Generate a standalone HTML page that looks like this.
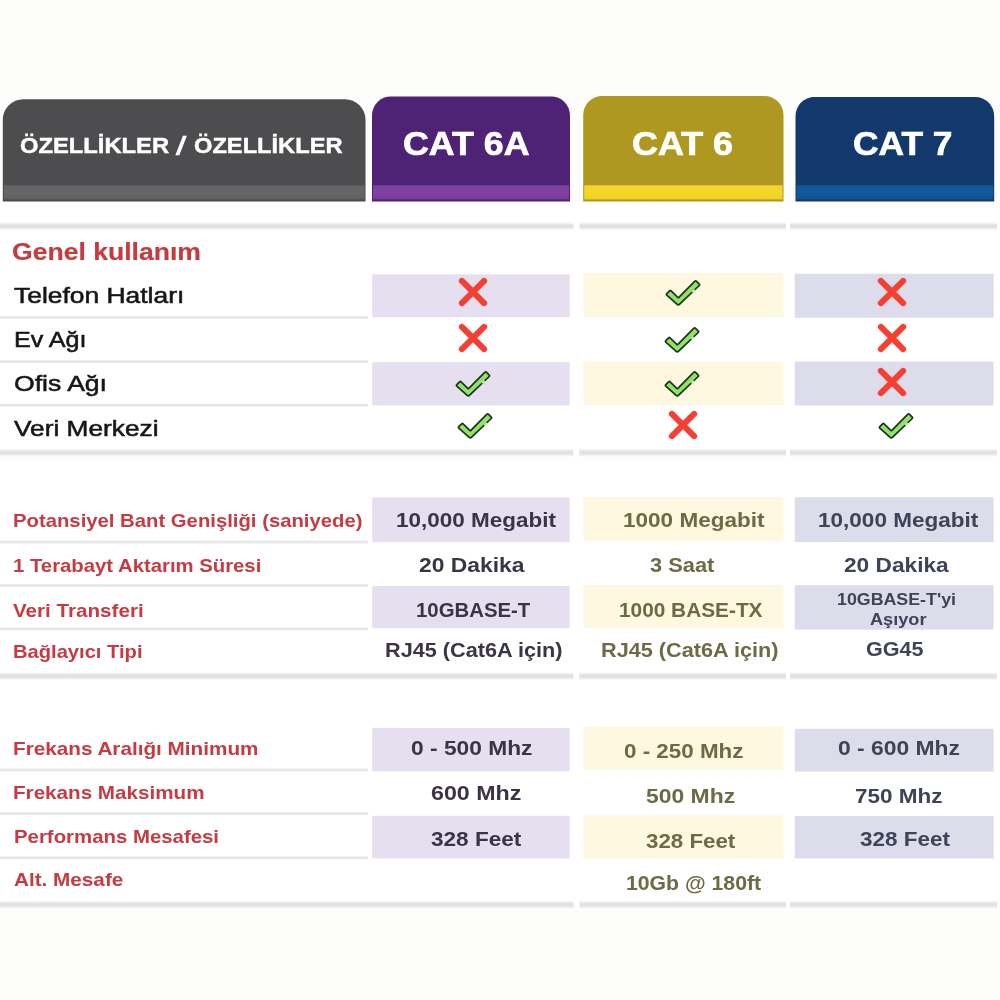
<!DOCTYPE html>
<html lang="tr">
<head>
<meta charset="utf-8">
<title>CAT 6A / CAT 6 / CAT 7</title>
<style>
html,body{margin:0;padding:0;background:#fdfdfb;}
body{width:1000px;height:1000px;position:relative;overflow:hidden;font-family:"Liberation Sans", sans-serif;}
.bg{position:absolute;left:0;top:0;}
.t{position:absolute;white-space:nowrap;line-height:1;transform-origin:0 50%;}
.ic{position:absolute;overflow:visible;}
</style>
</head>
<body>
<svg class="bg" width="1000" height="1000" viewBox="0 0 1000 1000">
<defs>
<linearGradient id="sg0" x1="0" y1="0" x2="0" y2="1"><stop offset="0" stop-color="#626265"/><stop offset="0.5" stop-color="#67676a"/><stop offset="1" stop-color="#5f5f62"/></linearGradient>
<linearGradient id="sg1" x1="0" y1="0" x2="0" y2="1"><stop offset="0" stop-color="#7a429d"/><stop offset="0.5" stop-color="#843fa6"/><stop offset="1" stop-color="#753e97"/></linearGradient>
<linearGradient id="sg2" x1="0" y1="0" x2="0" y2="1"><stop offset="0" stop-color="#f2d333"/><stop offset="0.5" stop-color="#f5d722"/><stop offset="1" stop-color="#ecd030"/></linearGradient>
<linearGradient id="sg3" x1="0" y1="0" x2="0" y2="1"><stop offset="0" stop-color="#185797"/><stop offset="0.5" stop-color="#0d5ba0"/><stop offset="1" stop-color="#155090"/></linearGradient>
<filter id="soft" x="-5%" y="-10%" width="110%" height="120%"><feGaussianBlur stdDeviation="0.7"/></filter>
<linearGradient id="lg" x1="0" y1="0" x2="0" y2="1"><stop offset="0" stop-color="#e1e1e1" stop-opacity="0"/><stop offset="0.14" stop-color="#e1e1e1" stop-opacity="0.25"/><stop offset="0.3" stop-color="#e1e1e1" stop-opacity="0.8"/><stop offset="0.42" stop-color="#e1e1e1"/><stop offset="0.58" stop-color="#e1e1e1"/><stop offset="0.7" stop-color="#e1e1e1" stop-opacity="0.8"/><stop offset="0.86" stop-color="#e1e1e1" stop-opacity="0.25"/><stop offset="1" stop-color="#e1e1e1" stop-opacity="0"/></linearGradient>
<linearGradient id="tg" x1="0" y1="0" x2="0" y2="1"><stop offset="0" stop-color="#e4e4e4" stop-opacity="0"/><stop offset="0.3" stop-color="#e4e4e4" stop-opacity="0.85"/><stop offset="0.5" stop-color="#e4e4e4"/><stop offset="0.7" stop-color="#e4e4e4" stop-opacity="0.85"/><stop offset="1" stop-color="#e4e4e4" stop-opacity="0"/></linearGradient>
</defs>
<rect x="0.00" y="203.00" width="1000.00" height="702.50" fill="#ffffff"/>
<path d="M2.80 201.50V119.70A20.50 20.50 0 0 1 23.30 99.20H345.00A20.50 20.50 0 0 1 365.50 119.70V201.50Z" fill="#4d4d4f"/>
<rect x="3.80" y="185.30" width="360.70" height="14.10" fill="url(#sg0)"/>
<path d="M372.00 201.50V115.40A19.00 19.00 0 0 1 391.00 96.40H551.00A19.00 19.00 0 0 1 570.00 115.40V201.50Z" fill="#4e2375"/>
<rect x="373.00" y="185.30" width="196.00" height="14.10" fill="url(#sg1)"/>
<path d="M583.20 201.50V115.00A19.00 19.00 0 0 1 602.20 96.00H764.50A19.00 19.00 0 0 1 783.50 115.00V201.50Z" fill="#af9820"/>
<rect x="584.20" y="185.30" width="198.30" height="14.10" fill="url(#sg2)"/>
<path d="M795.50 201.50V116.00A19.00 19.00 0 0 1 814.50 97.00H975.20A19.00 19.00 0 0 1 994.20 116.00V201.50Z" fill="#12386c"/>
<rect x="796.50" y="185.30" width="196.70" height="14.10" fill="url(#sg3)"/>
<rect x="372.20" y="274.30" width="197.50" height="42.90" fill="#e5dff0"/>
<rect x="372.20" y="362.20" width="197.50" height="43.20" fill="#e5dff0"/>
<rect x="372.20" y="497.40" width="197.50" height="44.80" fill="#e5dff0"/>
<rect x="372.20" y="586.00" width="197.50" height="42.20" fill="#e5dff0"/>
<rect x="372.20" y="728.00" width="197.50" height="43.30" fill="#e5dff0"/>
<rect x="372.20" y="815.80" width="197.50" height="42.50" fill="#e5dff0"/>
<rect x="583.60" y="273.00" width="199.80" height="44.10" fill="#fdf8df" filter="url(#soft)"/>
<rect x="583.60" y="361.60" width="199.80" height="43.40" fill="#fdf8df" filter="url(#soft)"/>
<rect x="583.60" y="497.20" width="199.80" height="44.20" fill="#fdf8df" filter="url(#soft)"/>
<rect x="583.60" y="585.10" width="199.80" height="43.10" fill="#fdf8df" filter="url(#soft)"/>
<rect x="583.60" y="726.60" width="199.80" height="43.40" fill="#fdf8df" filter="url(#soft)"/>
<rect x="583.60" y="815.40" width="199.80" height="43.20" fill="#fdf8df" filter="url(#soft)"/>
<rect x="794.80" y="273.80" width="198.80" height="44.00" fill="#dcdcea"/>
<rect x="794.80" y="361.60" width="198.80" height="43.90" fill="#dcdcea"/>
<rect x="794.80" y="497.30" width="198.80" height="44.80" fill="#dcdcea"/>
<rect x="794.80" y="585.20" width="198.80" height="44.40" fill="#dcdcea"/>
<rect x="794.80" y="728.80" width="198.80" height="42.80" fill="#dcdcea"/>
<rect x="794.80" y="816.00" width="198.80" height="42.40" fill="#dcdcea"/>
<rect x="0.00" y="221.70" width="573.50" height="9.00" fill="url(#lg)"/>
<rect x="579.50" y="221.70" width="206.50" height="9.00" fill="url(#lg)"/>
<rect x="790.00" y="221.70" width="207.00" height="9.00" fill="url(#lg)"/>
<rect x="0.00" y="448.10" width="573.50" height="9.00" fill="url(#lg)"/>
<rect x="579.50" y="448.10" width="206.50" height="9.00" fill="url(#lg)"/>
<rect x="790.00" y="448.10" width="207.00" height="9.00" fill="url(#lg)"/>
<rect x="0.00" y="671.70" width="573.50" height="9.00" fill="url(#lg)"/>
<rect x="579.50" y="671.70" width="206.50" height="9.00" fill="url(#lg)"/>
<rect x="790.00" y="671.70" width="207.00" height="9.00" fill="url(#lg)"/>
<rect x="0.00" y="900.10" width="573.50" height="9.00" fill="url(#lg)"/>
<rect x="579.50" y="900.10" width="206.50" height="9.00" fill="url(#lg)"/>
<rect x="790.00" y="900.10" width="207.00" height="9.00" fill="url(#lg)"/>
<rect x="0.00" y="315.40" width="368.00" height="4.00" fill="url(#tg)"/>
<rect x="0.00" y="359.60" width="368.00" height="4.00" fill="url(#tg)"/>
<rect x="0.00" y="403.30" width="368.00" height="4.00" fill="url(#tg)"/>
<rect x="0.00" y="540.00" width="368.00" height="4.00" fill="url(#tg)"/>
<rect x="0.00" y="583.40" width="368.00" height="4.00" fill="url(#tg)"/>
<rect x="0.00" y="627.00" width="368.00" height="4.00" fill="url(#tg)"/>
<rect x="0.00" y="768.00" width="368.00" height="4.00" fill="url(#tg)"/>
<rect x="0.00" y="811.60" width="368.00" height="4.00" fill="url(#tg)"/>
<rect x="0.00" y="855.80" width="368.00" height="4.00" fill="url(#tg)"/>
</svg>
<svg class="ic" style="left:455.3px;top:274.0px" width="36" height="36" viewBox="-18 -18 36 36"><path d="M-11.1 -11.1L11.1 11.1M11.1 -11.1L-11.1 11.1" stroke="#f53f32" stroke-width="6.1" stroke-linecap="round" fill="none"/></svg>
<svg class="ic" style="left:660.50px;top:275.25px" width="44" height="36" viewBox="-22 -18 44 36"><path d="M-16.20 2.08Q-16.94 1.41 -16.23 0.71L-13.34 -2.16Q-12.63 -2.87 -11.91 -2.17L-4.96 4.57Q-4.67 4.85 -4.39 4.56L11.93 -11.78Q12.64 -12.49 13.35 -11.78L16.25 -8.90Q16.96 -8.20 16.24 -7.51L-3.33 11.16Q-4.70 12.48 -6.11 11.20Z" fill="#90e269" stroke="#1c331b" stroke-width="1.7" stroke-linejoin="round"/><path d="M9.2 -0.9L11.6 -3.2" stroke="#c3ef9f" stroke-width="2.0" fill="none"/></svg>
<svg class="ic" style="left:874.2px;top:274.1px" width="36" height="36" viewBox="-18 -18 36 36"><path d="M-11.1 -11.1L11.1 11.1M11.1 -11.1L-11.1 11.1" stroke="#f53f32" stroke-width="6.1" stroke-linecap="round" fill="none"/></svg>
<svg class="ic" style="left:455.3px;top:320.2px" width="36" height="36" viewBox="-18 -18 36 36"><path d="M-11.1 -11.1L11.1 11.1M11.1 -11.1L-11.1 11.1" stroke="#f53f32" stroke-width="6.1" stroke-linecap="round" fill="none"/></svg>
<svg class="ic" style="left:660.25px;top:321.60px" width="44" height="36" viewBox="-22 -18 44 36"><path d="M-16.20 2.08Q-16.94 1.41 -16.23 0.71L-13.34 -2.16Q-12.63 -2.87 -11.91 -2.17L-4.96 4.57Q-4.67 4.85 -4.39 4.56L11.93 -11.78Q12.64 -12.49 13.35 -11.78L16.25 -8.90Q16.96 -8.20 16.24 -7.51L-3.33 11.16Q-4.70 12.48 -6.11 11.20Z" fill="#90e269" stroke="#1c331b" stroke-width="1.7" stroke-linejoin="round"/><path d="M9.2 -0.9L11.6 -3.2" stroke="#c3ef9f" stroke-width="2.0" fill="none"/></svg>
<svg class="ic" style="left:874.2px;top:320.4px" width="36" height="36" viewBox="-18 -18 36 36"><path d="M-11.1 -11.1L11.1 11.1M11.1 -11.1L-11.1 11.1" stroke="#f53f32" stroke-width="6.1" stroke-linecap="round" fill="none"/></svg>
<svg class="ic" style="left:450.75px;top:365.50px" width="44" height="36" viewBox="-22 -18 44 36"><path d="M-16.20 2.08Q-16.94 1.41 -16.23 0.71L-13.34 -2.16Q-12.63 -2.87 -11.91 -2.17L-4.96 4.57Q-4.67 4.85 -4.39 4.56L11.93 -11.78Q12.64 -12.49 13.35 -11.78L16.25 -8.90Q16.96 -8.20 16.24 -7.51L-3.33 11.16Q-4.70 12.48 -6.11 11.20Z" fill="#90e269" stroke="#1c331b" stroke-width="1.7" stroke-linejoin="round"/><path d="M9.2 -0.9L11.6 -3.2" stroke="#c3ef9f" stroke-width="2.0" fill="none"/></svg>
<svg class="ic" style="left:660.25px;top:365.75px" width="44" height="36" viewBox="-22 -18 44 36"><path d="M-16.20 2.08Q-16.94 1.41 -16.23 0.71L-13.34 -2.16Q-12.63 -2.87 -11.91 -2.17L-4.96 4.57Q-4.67 4.85 -4.39 4.56L11.93 -11.78Q12.64 -12.49 13.35 -11.78L16.25 -8.90Q16.96 -8.20 16.24 -7.51L-3.33 11.16Q-4.70 12.48 -6.11 11.20Z" fill="#90e269" stroke="#1c331b" stroke-width="1.7" stroke-linejoin="round"/><path d="M9.2 -0.9L11.6 -3.2" stroke="#c3ef9f" stroke-width="2.0" fill="none"/></svg>
<svg class="ic" style="left:874.2px;top:364.2px" width="36" height="36" viewBox="-18 -18 36 36"><path d="M-11.1 -11.1L11.1 11.1M11.1 -11.1L-11.1 11.1" stroke="#f53f32" stroke-width="6.1" stroke-linecap="round" fill="none"/></svg>
<svg class="ic" style="left:452.50px;top:408.25px" width="44" height="36" viewBox="-22 -18 44 36"><path d="M-16.20 2.08Q-16.94 1.41 -16.23 0.71L-13.34 -2.16Q-12.63 -2.87 -11.91 -2.17L-4.96 4.57Q-4.67 4.85 -4.39 4.56L11.93 -11.78Q12.64 -12.49 13.35 -11.78L16.25 -8.90Q16.96 -8.20 16.24 -7.51L-3.33 11.16Q-4.70 12.48 -6.11 11.20Z" fill="#90e269" stroke="#1c331b" stroke-width="1.7" stroke-linejoin="round"/><path d="M9.2 -0.9L11.6 -3.2" stroke="#c3ef9f" stroke-width="2.0" fill="none"/></svg>
<svg class="ic" style="left:665.1px;top:407.0px" width="36" height="36" viewBox="-18 -18 36 36"><path d="M-11.1 -11.1L11.1 11.1M11.1 -11.1L-11.1 11.1" stroke="#f53f32" stroke-width="6.1" stroke-linecap="round" fill="none"/></svg>
<svg class="ic" style="left:873.90px;top:408.00px" width="44" height="36" viewBox="-22 -18 44 36"><path d="M-16.20 2.08Q-16.94 1.41 -16.23 0.71L-13.34 -2.16Q-12.63 -2.87 -11.91 -2.17L-4.96 4.57Q-4.67 4.85 -4.39 4.56L11.93 -11.78Q12.64 -12.49 13.35 -11.78L16.25 -8.90Q16.96 -8.20 16.24 -7.51L-3.33 11.16Q-4.70 12.48 -6.11 11.20Z" fill="#90e269" stroke="#1c331b" stroke-width="1.7" stroke-linejoin="round"/><path d="M9.2 -0.9L11.6 -3.2" stroke="#c3ef9f" stroke-width="2.0" fill="none"/></svg>
<span class="t" id="t0" style="left:19.70px;top:135.88px;font-size:21.40px;font-weight:700;color:#ffffff;transform:scaleX(1.1104);-webkit-text-stroke:0.45px #ffffff;">ÖZELLİKLER</span>
<span class="t" id="t1" style="left:175.80px;top:132.99px;font-size:26.00px;font-weight:400;color:#ffffff;transform:scaleX(1.4099);-webkit-text-stroke:0.70px #ffffff;">/</span>
<span class="t" id="t2" style="left:193.80px;top:135.88px;font-size:21.40px;font-weight:700;color:#ffffff;transform:scaleX(1.1059);-webkit-text-stroke:0.45px #ffffff;">ÖZELLİKLER</span>
<span class="t" id="t3" style="left:403.20px;top:126.64px;font-size:33.50px;font-weight:700;color:#ffffff;transform:scaleX(1.0675);-webkit-text-stroke:0.70px #ffffff;">CAT 6A</span>
<span class="t" id="t4" style="left:632.20px;top:126.64px;font-size:33.50px;font-weight:700;color:#ffffff;transform:scaleX(1.0709);-webkit-text-stroke:0.70px #ffffff;">CAT 6</span>
<span class="t" id="t5" style="left:853.20px;top:126.64px;font-size:33.50px;font-weight:700;color:#ffffff;transform:scaleX(1.0550);-webkit-text-stroke:0.70px #ffffff;">CAT 7</span>
<span class="t" id="t6" style="left:12.20px;top:241.02px;font-size:23.60px;font-weight:700;color:#c63b41;transform:scaleX(1.1260);-webkit-text-stroke:0.20px #c63b41;">Genel kullanım</span>
<span class="t" id="t7" style="left:14.20px;top:284.87px;font-size:22.60px;font-weight:400;color:#161616;transform:scaleX(1.1689);-webkit-text-stroke:0.55px #161616;">Telefon Hatları</span>
<span class="t" id="t8" style="left:14.20px;top:328.87px;font-size:22.60px;font-weight:400;color:#161616;transform:scaleX(1.1100);-webkit-text-stroke:0.55px #161616;">Ev Ağı</span>
<span class="t" id="t9" style="left:13.70px;top:372.87px;font-size:22.60px;font-weight:400;color:#161616;transform:scaleX(1.1754);-webkit-text-stroke:0.55px #161616;">Ofis Ağı</span>
<span class="t" id="t10" style="left:13.70px;top:417.87px;font-size:22.60px;font-weight:400;color:#161616;transform:scaleX(1.1624);-webkit-text-stroke:0.55px #161616;">Veri Merkezi</span>
<span class="t" id="t11" style="left:13.20px;top:512.42px;font-size:18.40px;font-weight:700;color:#c63b41;transform:scaleX(1.1031);">Potansiyel Bant Genişliği (saniyede)</span>
<span class="t" id="t12" style="left:13.20px;top:557.42px;font-size:18.40px;font-weight:700;color:#c63b41;transform:scaleX(1.1042);">1 Terabayt Aktarım Süresi</span>
<span class="t" id="t13" style="left:13.20px;top:602.42px;font-size:18.40px;font-weight:700;color:#c63b41;transform:scaleX(1.1214);">Veri Transferi</span>
<span class="t" id="t14" style="left:13.20px;top:643.42px;font-size:18.40px;font-weight:700;color:#c63b41;transform:scaleX(1.0953);">Bağlayıcı Tipi</span>
<span class="t" id="t15" style="left:13.20px;top:740.42px;font-size:18.40px;font-weight:700;color:#c63b41;transform:scaleX(1.1261);">Frekans Aralığı Minimum</span>
<span class="t" id="t16" style="left:13.20px;top:784.42px;font-size:18.40px;font-weight:700;color:#c63b41;transform:scaleX(1.1218);">Frekans Maksimum</span>
<span class="t" id="t17" style="left:13.70px;top:828.42px;font-size:18.40px;font-weight:700;color:#c63b41;transform:scaleX(1.1080);">Performans Mesafesi</span>
<span class="t" id="t18" style="left:14.20px;top:871.42px;font-size:18.40px;font-weight:700;color:#c63b41;transform:scaleX(1.1257);">Alt. Mesafe</span>
<span class="t" id="t19" style="left:396.00px;top:511.24px;font-size:19.80px;font-weight:700;color:#3b3447;transform:scaleX(1.1362);">10,000 Megabit</span>
<span class="t" id="t20" style="left:419.20px;top:556.24px;font-size:19.80px;font-weight:700;color:#3b3447;transform:scaleX(1.1556);">20 Dakika</span>
<span class="t" id="t21" style="left:416.40px;top:601.24px;font-size:19.80px;font-weight:700;color:#3b3447;transform:scaleX(1.0294);">10GBASE-T</span>
<span class="t" id="t22" style="left:385.20px;top:641.24px;font-size:19.80px;font-weight:700;color:#3b3447;transform:scaleX(1.0959);">RJ45 (Cat6A için)</span>
<span class="t" id="t23" style="left:623.20px;top:511.24px;font-size:19.80px;font-weight:700;color:#6e6a45;transform:scaleX(1.1390);">1000 Megabit</span>
<span class="t" id="t24" style="left:650.40px;top:556.24px;font-size:19.80px;font-weight:700;color:#6e6a45;transform:scaleX(1.1030);">3 Saat</span>
<span class="t" id="t25" style="left:619.20px;top:601.24px;font-size:19.80px;font-weight:700;color:#6e6a45;transform:scaleX(1.0526);">1000 BASE-TX</span>
<span class="t" id="t26" style="left:601.20px;top:641.24px;font-size:19.80px;font-weight:700;color:#6e6a45;transform:scaleX(1.0959);">RJ45 (Cat6A için)</span>
<span class="t" id="t27" style="left:818.40px;top:511.24px;font-size:19.80px;font-weight:700;color:#3e4358;transform:scaleX(1.1390);">10,000 Megabit</span>
<span class="t" id="t28" style="left:844.00px;top:556.24px;font-size:19.80px;font-weight:700;color:#3e4358;transform:scaleX(1.1468);">20 Dakika</span>
<span class="t" id="t29" style="left:836.90px;top:592.46px;font-size:16.00px;font-weight:700;color:#3e4358;transform:scaleX(1.1126);">10GBASE-T'yi</span>
<span class="t" id="t30" style="left:870.20px;top:612.46px;font-size:16.00px;font-weight:700;color:#3e4358;transform:scaleX(1.1346);">Aşıyor</span>
<span class="t" id="t31" style="left:866.40px;top:640.24px;font-size:19.80px;font-weight:700;color:#3e4358;transform:scaleX(1.0894);">GG45</span>
<span class="t" id="t32" style="left:411.20px;top:739.24px;font-size:19.80px;font-weight:700;color:#3b3447;transform:scaleX(1.1511);">0 - 500 Mhz</span>
<span class="t" id="t33" style="left:431.20px;top:784.24px;font-size:19.80px;font-weight:700;color:#3b3447;transform:scaleX(1.1734);">600 Mhz</span>
<span class="t" id="t34" style="left:431.20px;top:830.24px;font-size:19.80px;font-weight:700;color:#3b3447;transform:scaleX(1.1403);">328 Feet</span>
<span class="t" id="t35" style="left:624.40px;top:742.24px;font-size:19.80px;font-weight:700;color:#6e6a45;transform:scaleX(1.1322);">0 - 250 Mhz</span>
<span class="t" id="t36" style="left:646.40px;top:787.24px;font-size:19.80px;font-weight:700;color:#6e6a45;transform:scaleX(1.1578);">500 Mhz</span>
<span class="t" id="t37" style="left:646.20px;top:832.24px;font-size:19.80px;font-weight:700;color:#6e6a45;transform:scaleX(1.1277);">328 Feet</span>
<span class="t" id="t38" style="left:626.40px;top:874.24px;font-size:19.80px;font-weight:700;color:#6e6a45;transform:scaleX(1.0728);">10Gb @ 180ft</span>
<span class="t" id="t39" style="left:838.00px;top:739.24px;font-size:19.80px;font-weight:700;color:#3e4358;transform:scaleX(1.1549);">0 - 600 Mhz</span>
<span class="t" id="t40" style="left:855.20px;top:787.24px;font-size:19.80px;font-weight:700;color:#3e4358;transform:scaleX(1.1371);">750 Mhz</span>
<span class="t" id="t41" style="left:860.00px;top:830.24px;font-size:19.80px;font-weight:700;color:#3e4358;transform:scaleX(1.1353);">328 Feet</span>
</body>
</html>
